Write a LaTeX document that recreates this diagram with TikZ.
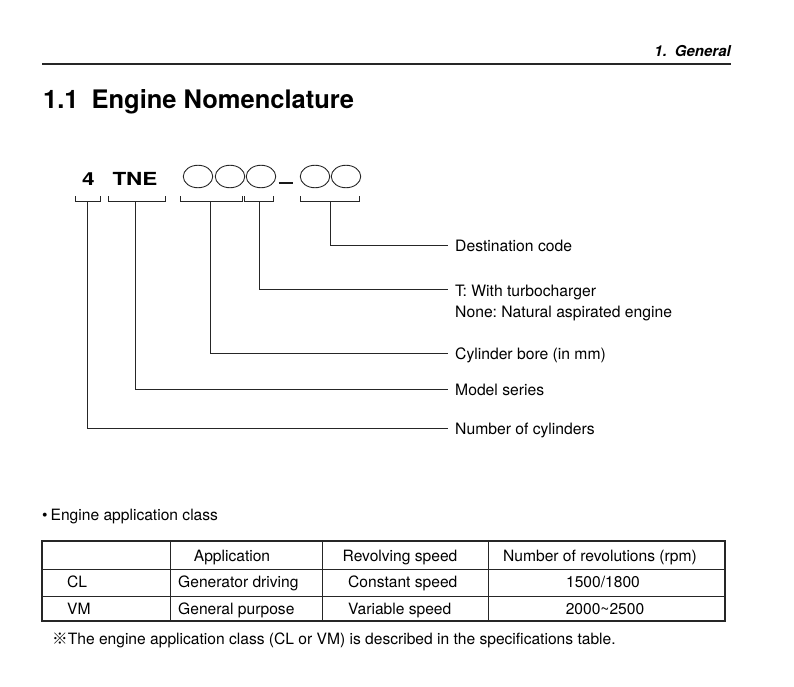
\documentclass[tikz,border=0pt]{standalone}
\usepackage{fontspec}
\setmainfont{TeX Gyre Heros}
\newfontfamily\cjkfont{Noto Sans CJK JP}
\usetikzlibrary{shapes.geometric}
\frenchspacing
\begin{document}
\begin{tikzpicture}[x=1pt,y=-1pt,
  conn/.style={draw=black!85, line width=0.9pt},
  lbl/.style={anchor=west, inner xsep=7pt, inner ysep=0pt, text height=13pt, text depth=0pt, font=\fontsize{15.7}{21}\selectfont},
  body/.style={inner sep=0pt, font=\fontsize{15.6}{18}\selectfont},
  oval/.style={draw=black!85, line width=0.9pt, ellipse, minimum width=29.5pt, minimum height=22.5pt, inner sep=0pt},
  code/.style={inner sep=0pt, anchor=base, font=\bfseries\fontsize{18}{20}\selectfont},
  grid/.style={draw=black!85, line width=0.9pt},
  ]
\useasboundingbox (0,0) rectangle (794,687);

% header
\node[inner sep=0pt, anchor=base east, font=\bfseries\itshape\fontsize{15}{18}\selectfont] (hdr) at (731,57) {1.\hspace{8pt}General};
\draw[draw=black!85, line width=1.6pt] (42,64) -- (731,64);
\node[inner sep=0pt, anchor=base west, font=\bfseries\fontsize{25.5}{30}\selectfont] (title) at (43,109) {1.1\hspace{13pt}Engine Nomenclature};

% code line
\node[code] (n4) at (88.5,185) {\scalebox{1.25}[1]{4}};
\node[code] (tne) at (135,185) {\scalebox{1.25}[1]{TNE}};
\node[oval] (c1) at (198,176.5) {};
\node[oval] (c2) at (230,176.5) {};
\node[oval] (c3) at (261,176.5) {};
\node[oval] (c4) at (315,176.5) {};
\node[oval] (c5) at (346,176.5) {};
\draw[draw=black!90, line width=2pt] (c3.east) ++(2.5pt,-6pt) coordinate (d1) -- ++(14pt,0) coordinate (d2);

% brackets
\draw[conn] (75,196) -- (75,201) -- (100,201) -- (100,196);
\draw[conn] (108,196) -- (108,201) -- (165,201) -- (165,196);
\draw[conn] (180,196) -- (180,201) -- (242,201) -- (242,196);
\draw[conn] (244,196) -- (244,201) -- (273,201) -- (273,196);
\draw[conn] (300,196) -- (300,201) -- (359,201) -- (359,196);
\coordinate (b1) at (87,201);
\coordinate (b2) at (135,201);
\coordinate (b3) at (210,201);
\coordinate (b4) at (259,201);
\coordinate (b5) at (330,201);

% labels
\node[lbl] (dest) at (448,245) {Destination code};
\node[inner xsep=7pt, inner ysep=0pt, anchor=north west, align=left, font=\fontsize{15.7}{21}\selectfont] (turbo) at (448,284.8) {T: With turbocharger\\None: Natural aspirated engine};
\node[lbl] (bore) at (448,353) {Cylinder bore (in mm)};
\node[lbl] (model) at (448,389) {Model series};
\node[lbl] (ncyl) at (448,428) {Number of cylinders};

\draw[conn] (b5) |- (dest.west);
\draw[conn] (b4) |- ([yshift=-4.3pt]turbo.north west);
\draw[conn] (b3) |- (bore.west);
\draw[conn] (b2) |- (model.west);
\draw[conn] (b1) |- (ncyl.west);

% application class
\node[body, anchor=base west] (appcls) at (42,520) {\textbullet\hspace{3pt}Engine application class};

\draw[draw=black!85, line width=1.2pt] (42,541) rectangle (725,621);
\draw[grid] (42,569) -- (725,569);
\draw[grid] (42,596) -- (725,596);
\draw[grid] (170,541) -- (170,621);
\draw[grid] (322,541) -- (322,621);
\draw[grid] (488,541) -- (488,621);

\node[body, anchor=base] (h2) at (232,561) {Application};
\node[body, anchor=base] (h3) at (400,561) {Revolving speed};
\node[body, anchor=base] (h4) at (600,561) {Number of revolutions (rpm)};

\node[body, anchor=base west] (r1a) at (67,587) {CL};
\node[body, anchor=base west] (r1b) at (178,587) {Generator driving};
\node[body, anchor=base west] (r1c) at (348,587) {Constant speed};
\node[body, anchor=base] (r1d) at (603,587) {1500/1800};

\node[body, anchor=base west] (r2a) at (67,614) {VM};
\node[body, anchor=base west] (r2b) at (178,614) {General purpose};
\node[body, anchor=base west] (r2c) at (348,614) {Variable speed};
\node[body, anchor=base] (r2d) at (605,614) {2000\textasciitilde2500};

\node[body, anchor=base west] (note) at (52,644) {{\cjkfont ※}The engine application class (CL or VM) is described in the specifications table.};
\end{tikzpicture}
\end{document}
